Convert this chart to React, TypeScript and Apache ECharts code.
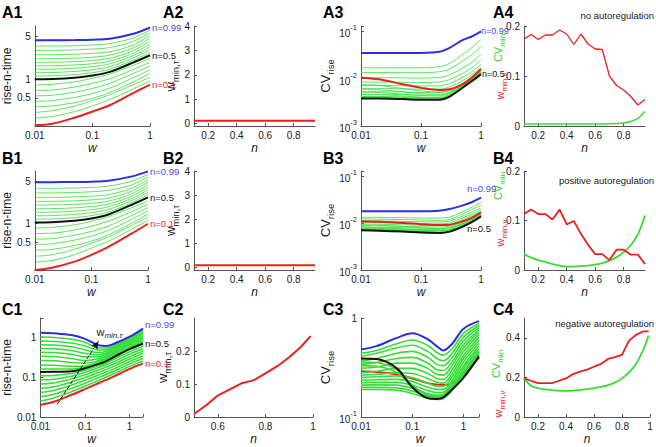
import React, { useEffect, useRef } from 'react';
import * as echarts from 'echarts';

// ---------------- data ----------------
const N_LEVELS = [0.1, 0.15, 0.2, 0.25, 0.3, 0.35, 0.4, 0.45, 0.5, 0.55, 0.6, 0.65, 0.7, 0.75, 0.8, 0.85, 0.9, 0.95, 0.99];

const W_A1 = [0.01, 0.02, 0.05, 0.1, 0.2, 0.5, 1];
const A1_RISE = [
  [0.18, 0.19, 0.24, 0.30, 0.38, 0.59, 0.82],
  [0.235, 0.25, 0.30, 0.37, 0.47, 0.69, 0.94],
  [0.29, 0.31, 0.37, 0.45, 0.56, 0.81, 1.08],
  [0.36, 0.37, 0.42, 0.49, 0.61, 0.90, 1.24],
  [0.44, 0.45, 0.51, 0.59, 0.72, 1.05, 1.43],
  [0.54, 0.55, 0.62, 0.71, 0.86, 1.23, 1.64],
  [0.66, 0.67, 0.75, 0.86, 1.02, 1.43, 1.88],
  [0.81, 0.83, 0.91, 1.04, 1.22, 1.67, 2.16],
  [1.0, 1.01, 1.06, 1.15, 1.32, 1.85, 2.45],
  [1.13, 1.14, 1.19, 1.28, 1.47, 2.02, 2.72],
  [1.28, 1.29, 1.34, 1.43, 1.61, 2.20, 3.02],
  [1.45, 1.46, 1.51, 1.60, 1.78, 2.40, 3.35],
  [1.65, 1.66, 1.71, 1.79, 1.97, 2.62, 3.72],
  [1.88, 1.89, 1.93, 2.02, 2.19, 2.89, 4.13],
  [2.15, 2.16, 2.20, 2.28, 2.46, 3.19, 4.58],
  [2.5, 2.5, 2.55, 2.63, 2.80, 3.57, 5.08],
  [2.95, 2.95, 3.0, 3.09, 3.27, 4.08, 5.64],
  [3.45, 3.45, 3.50, 3.60, 3.80, 4.65, 6.26],
  [4.3, 4.3, 4.32, 4.38, 4.55, 5.4, 6.9],
];

const B1_RISE = [
  [0.175, 0.19, 0.24, 0.31, 0.42, 0.68, 1.0],
  [0.235, 0.25, 0.31, 0.40, 0.52, 0.80, 1.13],
  [0.295, 0.31, 0.38, 0.48, 0.61, 0.93, 1.28],
  [0.37, 0.38, 0.44, 0.52, 0.66, 1.01, 1.44],
  [0.46, 0.47, 0.54, 0.63, 0.78, 1.17, 1.63],
  [0.56, 0.57, 0.65, 0.75, 0.92, 1.35, 1.84],
  [0.69, 0.70, 0.79, 0.91, 1.10, 1.56, 2.08],
  [0.85, 0.87, 0.96, 1.10, 1.31, 1.81, 2.36],
  [1.05, 1.06, 1.12, 1.22, 1.42, 2.02, 2.70],
  [1.19, 1.20, 1.26, 1.36, 1.56, 2.18, 2.97],
  [1.35, 1.36, 1.42, 1.52, 1.72, 2.36, 3.27],
  [1.54, 1.55, 1.61, 1.70, 1.90, 2.56, 3.59],
  [1.76, 1.77, 1.82, 1.91, 2.10, 2.79, 3.95],
  [2.02, 2.03, 2.08, 2.16, 2.35, 3.07, 4.35],
  [2.32, 2.33, 2.37, 2.46, 2.63, 3.38, 4.78],
  [2.7, 2.7, 2.75, 2.83, 3.0, 3.77, 5.26],
  [3.2, 3.2, 3.25, 3.34, 3.52, 4.30, 5.79],
  [3.8, 3.8, 3.85, 3.94, 4.13, 4.93, 6.4],
  [4.8, 4.8, 4.82, 4.88, 5.05, 5.9, 7.2],
];

const W_C1 = [0.01, 0.02, 0.05, 0.1, 0.2, 0.3, 0.5, 1, 2];
const C1_RISE = [
  [0.02, 0.024, 0.036, 0.05, 0.07, 0.085, 0.11, 0.16, 0.22],
  [0.025, 0.03, 0.043, 0.059, 0.082, 0.10, 0.128, 0.185, 0.25],
  [0.032, 0.037, 0.052, 0.07, 0.096, 0.116, 0.148, 0.213, 0.29],
  [0.041, 0.046, 0.063, 0.083, 0.112, 0.134, 0.17, 0.245, 0.335],
  [0.052, 0.057, 0.075, 0.097, 0.13, 0.155, 0.196, 0.282, 0.39],
  [0.067, 0.071, 0.089, 0.113, 0.15, 0.178, 0.225, 0.325, 0.44],
  [0.085, 0.088, 0.105, 0.131, 0.172, 0.203, 0.258, 0.375, 0.51],
  [0.108, 0.11, 0.123, 0.148, 0.19, 0.225, 0.295, 0.43, 0.59],
  [0.134, 0.135, 0.14, 0.165, 0.21, 0.25, 0.34, 0.50, 0.68],
  [0.16, 0.16, 0.158, 0.175, 0.225, 0.275, 0.37, 0.55, 0.74],
  [0.20, 0.198, 0.185, 0.19, 0.24, 0.295, 0.40, 0.60, 0.81],
  [0.26, 0.255, 0.232, 0.22, 0.26, 0.315, 0.43, 0.65, 0.88],
  [0.33, 0.325, 0.29, 0.26, 0.285, 0.34, 0.46, 0.70, 0.96],
  [0.42, 0.41, 0.37, 0.32, 0.32, 0.37, 0.50, 0.76, 1.05],
  [0.52, 0.51, 0.46, 0.39, 0.36, 0.40, 0.54, 0.82, 1.15],
  [0.64, 0.63, 0.57, 0.48, 0.41, 0.44, 0.58, 0.88, 1.25],
  [0.80, 0.78, 0.71, 0.60, 0.47, 0.48, 0.62, 0.94, 1.36],
  [1.0, 0.98, 0.88, 0.74, 0.54, 0.53, 0.66, 0.98, 1.49],
  [1.29, 1.25, 1.12, 0.90, 0.63, 0.60, 0.72, 1.02, 1.63],
];
const C1_ARROW = [[0.024, 0.021], [0.2, 0.78]];

const W_A3 = [0.01, 0.02, 0.05, 0.1, 0.2, 0.3, 0.5, 0.7, 1];
const A3_CV = [
  [0.0105, 0.0097, 0.0076, 0.0064, 0.0058, 0.006, 0.0077, 0.0105, 0.016],
  [0.0075, 0.0072, 0.0062, 0.0055, 0.0052, 0.0056, 0.0074, 0.0102, 0.0155],
  [0.006, 0.0058, 0.0053, 0.0048, 0.0047, 0.0052, 0.0071, 0.0098, 0.015],
  [0.0052, 0.0051, 0.0047, 0.0044, 0.0043, 0.0049, 0.0069, 0.0095, 0.0145],
  [0.0046, 0.0046, 0.0043, 0.0041, 0.0040, 0.0046, 0.0067, 0.0092, 0.014],
  [0.0042, 0.0042, 0.0040, 0.0039, 0.0038, 0.0044, 0.0066, 0.009, 0.0135],
  [0.0040, 0.0040, 0.0039, 0.0038, 0.0037, 0.0043, 0.0065, 0.0089, 0.013],
  [0.0039, 0.0039, 0.0038, 0.0037, 0.0036, 0.0042, 0.0065, 0.0088, 0.0128],
  [0.0038, 0.0038, 0.0037, 0.0036, 0.0036, 0.0042, 0.0065, 0.0088, 0.0125],
  [0.0042, 0.0042, 0.0041, 0.004, 0.004, 0.0046, 0.0069, 0.0092, 0.013],
  [0.0047, 0.0047, 0.0046, 0.0045, 0.0045, 0.0051, 0.0074, 0.0098, 0.0138],
  [0.0053, 0.0053, 0.0052, 0.0051, 0.0051, 0.0057, 0.0081, 0.0107, 0.015],
  [0.0062, 0.0062, 0.0061, 0.006, 0.006, 0.0067, 0.0092, 0.012, 0.017],
  [0.0072, 0.0072, 0.0071, 0.007, 0.0071, 0.0079, 0.0108, 0.014, 0.02],
  [0.0085, 0.0085, 0.0084, 0.0083, 0.0085, 0.0096, 0.013, 0.017, 0.025],
  [0.0105, 0.0105, 0.0104, 0.0103, 0.0106, 0.012, 0.017, 0.022, 0.033],
  [0.0135, 0.0135, 0.0134, 0.0134, 0.014, 0.016, 0.024, 0.032, 0.048],
  [0.017, 0.017, 0.017, 0.017, 0.018, 0.021, 0.033, 0.045, 0.067],
  [0.035, 0.035, 0.035, 0.035, 0.037, 0.045, 0.066, 0.078, 0.10],
];

const B3_CV = [
  [0.011, 0.0107, 0.0101, 0.0095, 0.0091, 0.0093, 0.011, 0.013, 0.017],
  [0.0092, 0.009, 0.0085, 0.008, 0.0077, 0.008, 0.0097, 0.0118, 0.0158],
  [0.0082, 0.008, 0.0076, 0.0072, 0.0069, 0.0072, 0.009, 0.0112, 0.0152],
  [0.0077, 0.0075, 0.0071, 0.0067, 0.0065, 0.0069, 0.0087, 0.0108, 0.0147],
  [0.0074, 0.0072, 0.0068, 0.0065, 0.0063, 0.0067, 0.0086, 0.0106, 0.0143],
  [0.0073, 0.0071, 0.0067, 0.0064, 0.0062, 0.0066, 0.0085, 0.0105, 0.0141],
  [0.0072, 0.007, 0.0067, 0.0064, 0.0062, 0.0066, 0.0085, 0.0105, 0.014],
  [0.0071, 0.0069, 0.0066, 0.0063, 0.0061, 0.0066, 0.0085, 0.0105, 0.014],
  [0.0071, 0.0069, 0.0066, 0.0063, 0.0062, 0.0066, 0.0085, 0.0105, 0.014],
  [0.0074, 0.0073, 0.0071, 0.0070, 0.0069, 0.0072, 0.0095, 0.0116, 0.0143],
  [0.0078, 0.0077, 0.0075, 0.0073, 0.0073, 0.0076, 0.0099, 0.0121, 0.0148],
  [0.0083, 0.0082, 0.008, 0.0078, 0.0077, 0.0081, 0.0105, 0.0127, 0.0155],
  [0.0089, 0.0088, 0.0085, 0.0084, 0.0083, 0.0086, 0.0111, 0.0135, 0.0163],
  [0.0096, 0.0095, 0.0092, 0.009, 0.0089, 0.0093, 0.012, 0.0145, 0.0175],
  [0.0104, 0.0102, 0.01, 0.0098, 0.0097, 0.0101, 0.013, 0.0157, 0.019],
  [0.0114, 0.0112, 0.0109, 0.0107, 0.0106, 0.0111, 0.0143, 0.0173, 0.021],
  [0.0124, 0.0122, 0.0119, 0.0117, 0.0115, 0.012, 0.0159, 0.0195, 0.024],
  [0.0134, 0.0133, 0.0131, 0.0129, 0.0129, 0.0135, 0.0178, 0.022, 0.028],
  [0.018, 0.018, 0.018, 0.018, 0.0185, 0.020, 0.024, 0.028, 0.035],
];

const W_C3 = [0.01, 0.02, 0.05, 0.1, 0.2, 0.3, 0.4, 0.6, 1, 2];
const C3_RED = [0.29, 0.285, 0.27, 0.245, 0.22, 0.213, 0.21, 0.22, 0.27, 0.40];
const C3_BLACK = [0.39, 0.385, 0.31, 0.20, 0.155, 0.152, 0.158, 0.19, 0.25, 0.41];
const C3_BLUE = [0.48, 0.52, 0.63, 0.70, 0.61, 0.52, 0.47, 0.55, 0.78, 0.93];
const C3_GREENS = [
  [0.44, 0.47, 0.55, 0.60, 0.53, 0.45, 0.42, 0.49, 0.70, 0.88],
  [0.41, 0.44, 0.50, 0.53, 0.46, 0.39, 0.37, 0.44, 0.64, 0.84],
  [0.37, 0.39, 0.44, 0.46, 0.40, 0.34, 0.33, 0.40, 0.59, 0.80],
  [0.34, 0.355, 0.39, 0.40, 0.35, 0.30, 0.295, 0.36, 0.54, 0.76],
  [0.31, 0.32, 0.35, 0.35, 0.31, 0.27, 0.265, 0.33, 0.50, 0.72],
  [0.28, 0.29, 0.31, 0.31, 0.275, 0.245, 0.24, 0.30, 0.46, 0.68],
  [0.265, 0.27, 0.28, 0.275, 0.245, 0.225, 0.22, 0.275, 0.42, 0.64],
  [0.25, 0.255, 0.26, 0.25, 0.22, 0.205, 0.205, 0.255, 0.39, 0.60],
  [0.235, 0.238, 0.24, 0.228, 0.2, 0.19, 0.19, 0.235, 0.36, 0.56],
  [0.222, 0.224, 0.224, 0.21, 0.185, 0.177, 0.178, 0.22, 0.33, 0.52],
  [0.21, 0.211, 0.21, 0.195, 0.172, 0.166, 0.168, 0.205, 0.31, 0.49],
  [0.2, 0.2, 0.197, 0.183, 0.162, 0.157, 0.16, 0.195, 0.29, 0.46],
  [0.19, 0.19, 0.186, 0.173, 0.155, 0.15, 0.153, 0.185, 0.275, 0.44],
  [0.36, 0.355, 0.30, 0.21, 0.165, 0.16, 0.165, 0.2, 0.27, 0.43],
  [0.33, 0.325, 0.28, 0.205, 0.168, 0.163, 0.168, 0.205, 0.285, 0.46],
];

const N_COL2 = [0.1, 0.15, 0.2, 0.25, 0.3, 0.35, 0.4, 0.45, 0.5, 0.55, 0.6, 0.65, 0.7, 0.75, 0.8, 0.85, 0.9, 0.95];
const A2_WMIN_TAU = [0.12, 0.12, 0.12, 0.12, 0.12, 0.12, 0.12, 0.12, 0.12, 0.12, 0.12, 0.12, 0.12, 0.12, 0.12, 0.12, 0.12, 0.12];
const B2_WMIN_TAU = [0.1, 0.1, 0.1, 0.1, 0.1, 0.1, 0.1, 0.1, 0.1, 0.1, 0.1, 0.1, 0.1, 0.1, 0.1, 0.1, 0.1, 0.1];
const N_C2 = [0.5, 0.55, 0.6, 0.65, 0.7, 0.75, 0.8, 0.85, 0.9, 0.95, 0.99];
const C2_WMIN_TAU = [0.009, 0.035, 0.065, 0.084, 0.102, 0.111, 0.132, 0.154, 0.181, 0.213, 0.245];

const N_COL4 = [0.1, 0.15, 0.2, 0.25, 0.3, 0.35, 0.4, 0.45, 0.5, 0.55, 0.6, 0.65, 0.7, 0.75, 0.8, 0.85, 0.9, 0.95];
const A4_WMIN_NU = [0.174, 0.183, 0.173, 0.182, 0.182, 0.192, 0.184, 0.163, 0.184, 0.164, 0.154, 0.153, 0.10, 0.081, 0.072, 0.059, 0.042, 0.053];
const A4_CV_MIN = [0.004, 0.004, 0.004, 0.004, 0.004, 0.004, 0.004, 0.004, 0.004, 0.004, 0.004, 0.004, 0.0045, 0.005, 0.006, 0.009, 0.015, 0.029];
const B4_WMIN_NU = [0.113, 0.122, 0.113, 0.113, 0.102, 0.122, 0.092, 0.099, 0.073, 0.051, 0.032, 0.032, 0.020, 0.041, 0.041, 0.031, 0.031, 0.012];
const B4_CV_MIN = [0.032, 0.025, 0.02, 0.016, 0.012, 0.009, 0.007, 0.007, 0.008, 0.009, 0.011, 0.014, 0.019, 0.026, 0.036, 0.05, 0.072, 0.11];
const N_C4 = [0.1, 0.15, 0.2, 0.25, 0.3, 0.35, 0.4, 0.45, 0.5, 0.55, 0.6, 0.65, 0.7, 0.75, 0.8, 0.85, 0.9, 0.95, 0.99];
const C4_WMIN_NU = [0.195, 0.183, 0.171, 0.171, 0.171, 0.183, 0.195, 0.217, 0.229, 0.239, 0.254, 0.268, 0.293, 0.302, 0.314, 0.386, 0.415, 0.432, 0.432];
const C4_CV_MIN = [0.195, 0.158, 0.146, 0.14, 0.136, 0.133, 0.132, 0.133, 0.137, 0.141, 0.146, 0.152, 0.161, 0.175, 0.195, 0.225, 0.268, 0.336, 0.412];

const RISE_TICKS = [0.5, 1, 5];
const COL2_Y_TICKS = [0, 1, 2, 3, 4];
const N_TICKS = [0.2, 0.4, 0.6, 0.8];
const C2_X_TICKS = [0.6, 0.8, 1];
const C2_Y_TICKS = [0, 0.1, 0.2];
const COL4_Y_TICKS = [0, 0.1, 0.2];
const C4_X_TICKS = [0.2, 0.4, 0.6, 0.8, 1];
const C4_Y_TICKS = [0, 0.2, 0.4];

// ---------------- style ----------------
const FONT = '"Liberation Sans", Arial, Helvetica, sans-serif';
const GREEN = '#36dd36';
const RED = '#ea1f1f';
const BLUE = '#2d2de6';
const BLACK = '#111111';
const AXIS_C = '#555555';
const TXT = '#1a1a1a';

const GRIDS = [
  { left: 30, top: 26, width: 120, height: 100 },
  { left: 194, top: 26, width: 121, height: 100 },
  { left: 361, top: 26, width: 120, height: 100 },
  { left: 524, top: 26, width: 121, height: 100 },
  { left: 30, top: 171, width: 118, height: 99 },
  { left: 194, top: 171, width: 121, height: 99 },
  { left: 361, top: 171, width: 120, height: 99 },
  { left: 524, top: 171, width: 121, height: 99 },
  { left: 30, top: 318, width: 113, height: 99 },
  { left: 194, top: 318, width: 119, height: 99 },
  { left: 361, top: 318, width: 118, height: 99 },
  { left: 524, top: 318, width: 126, height: 99 },
];

const axisLine = { show: true, onZero: false, lineStyle: { color: AXIS_C, width: 1 } };
const axisTick = { show: true, inside: true, length: 3, lineStyle: { color: AXIS_C, width: 1 } };
const labelBase = { color: TXT, fontSize: 10, fontFamily: FONT, margin: 4 };
const supRich = {
  b: { fontSize: 10, fontFamily: FONT, color: TXT, lineHeight: 15, verticalAlign: 'bottom' },
  s: { fontSize: 7.5, fontFamily: FONT, color: TXT, lineHeight: 15, verticalAlign: 'top' },
};
const nameRich = {
  m: { fontSize: 13, fontFamily: FONT, color: TXT, lineHeight: 20, verticalAlign: 'middle' },
  s: { fontSize: 9.5, fontFamily: FONT, color: TXT, lineHeight: 20, verticalAlign: 'bottom' },
};

function decLabel(v: number) {
  const l = Math.log10(v);
  const e = Math.round(l);
  if (Math.abs(l - e) > 1e-6) return '';
  return e >= 0 ? String(Math.pow(10, e)) : Math.pow(10, e).toFixed(-e);
}
function powLabel(v: number) {
  const l = Math.log10(v);
  const e = Math.round(l);
  if (Math.abs(l - e) > 1e-6) return '';
  if (e === 0) return '1';
  return '{b|10}{s|' + e + '}';
}

function xName(t: string) {
  return { name: t, nameLocation: 'middle', nameGap: 16, nameTextStyle: { fontSize: 12, fontStyle: 'italic', fontFamily: FONT, color: TXT } };
}

function logX(i: number, min: number, max: number) {
  return {
    type: 'log', logBase: 10, gridIndex: i, min, max, position: 'bottom',
    axisLine, axisTick, splitLine: { show: false },
    axisLabel: { ...labelBase, formatter: (v: number) => decLabel(v) },
    ...xName('w'),
  };
}
function valX(i: number, min: number, max: number, ticks: number[]) {
  return {
    type: 'value', gridIndex: i, min, max, position: 'bottom',
    axisLine, axisTick: { ...axisTick, customValues: ticks }, splitLine: { show: false },
    axisLabel: { ...labelBase, customValues: ticks, formatter: (v: number) => String(v) },
    ...xName('n'),
  };
}
function logY(i: number, min: number, max: number, fmt: (v: number) => string, name: string, gap: number, hideLabels = false) {
  return {
    type: 'log', logBase: 10, gridIndex: i, min, max, position: 'left',
    axisLine, axisTick: hideLabels ? { show: false } : axisTick, splitLine: { show: false },
    axisLabel: hideLabels ? { show: false } : { ...labelBase, formatter: fmt, rich: supRich },
    name, nameLocation: 'middle', nameGap: gap, nameRotate: 90,
    nameTextStyle: { fontSize: 12, fontFamily: FONT, color: TXT, rich: nameRich },
  };
}
function riseCompanion(i: number, min: number, max: number) {
  const t = RISE_TICKS.map((v) => Math.log10(v));
  return {
    type: 'value', gridIndex: i, min: Math.log10(min), max: Math.log10(max), position: 'left',
    axisLine: { show: false }, axisTick: { ...axisTick, customValues: t }, splitLine: { show: false },
    axisLabel: { ...labelBase, customValues: t, formatter: (v: number) => String(+Math.pow(10, v).toPrecision(2)) },
    name: 'rise-n-time', nameLocation: 'middle', nameGap: 16, nameRotate: 90,
    nameTextStyle: { fontSize: 12, fontFamily: FONT, color: TXT },
  };
}
function valY(i: number, min: number, max: number, ticks: number[], name = '', gap = 10) {
  return {
    type: 'value', gridIndex: i, min, max, position: 'left',
    axisLine, axisTick: { ...axisTick, customValues: ticks }, splitLine: { show: false },
    axisLabel: { ...labelBase, customValues: ticks, formatter: (v: number) => String(v) },
    name, nameLocation: 'middle', nameGap: gap, nameRotate: 90,
    nameTextStyle: { fontSize: 12, fontFamily: FONT, color: TXT, rich: nameRich },
  };
}

function line(i: number, xs: number[], ys: number[], color: string, width: number, extra: any = {}) {
  return {
    type: 'line', xAxisIndex: i, yAxisIndex: i,
    data: xs.map((x, k) => [x, ys[k]]),
    showSymbol: false, symbol: 'none', silent: true, animation: false,
    lineStyle: { color, width }, emphasis: { disabled: true },
    ...extra,
  };
}
function endLab(text: string, color: string, offset: number[] = [0, 0], size = 9.5) {
  return { show: true, formatter: text, color, fontSize: size, fontFamily: FONT, distance: 2, offset };
}

function family(i: number, ws: number[], rows: number[][], labels: any, greenWidth = 0.8, extraBlack: any = {}) {
  const out: any[] = [];
  const last = rows.length - 1;
  rows.forEach((row, k) => {
    if (k === 0 || k === 8 || k === last) return;
    out.push(line(i, ws, row, GREEN, greenWidth, { smooth: 0.35 }));
  });
  out.push(line(i, ws, rows[0], RED, 2, { smooth: 0.35, endLabel: labels.red }));
  out.push(line(i, ws, rows[8], BLACK, 2, { smooth: 0.35, endLabel: labels.black, ...extraBlack }));
  out.push(line(i, ws, rows[last], BLUE, 2, { smooth: 0.35, endLabel: labels.blue }));
  return out;
}

function buildOption() {
  const xAxis: any[] = [
    logX(0, 0.01, 1), valX(1, 0.1, 0.95, N_TICKS), logX(2, 0.01, 1), valX(3, 0.1, 0.95, N_TICKS),
    logX(4, 0.01, 1), valX(5, 0.1, 0.95, N_TICKS), logX(6, 0.01, 1), valX(7, 0.1, 0.95, N_TICKS),
    logX(8, 0.01, 2), valX(9, 0.5, 1, C2_X_TICKS), logX(10, 0.01, 2), valX(11, 0.1, 1, C4_X_TICKS),
  ];
  const wTau = '{m|w}{s|min,τ}';
  const cvRise = '{m|CV}{s|rise}';
  const yAxis: any[] = [
    logY(0, 0.175, 7.3, decLabel, '', 16, true),
    valY(1, -0.1, 4, COL2_Y_TICKS, wTau, 8),
    logY(2, 0.001, 0.13, powLabel, cvRise, 18),
    valY(3, 0, 0.2, COL4_Y_TICKS),
    logY(4, 0.175, 7.3, decLabel, '', 16, true),
    valY(5, -0.1, 4, COL2_Y_TICKS, wTau, 8),
    logY(6, 0.001, 0.13, powLabel, cvRise, 18),
    valY(7, 0, 0.2, COL4_Y_TICKS),
    logY(8, 0.01, 3, decLabel, 'rise-n-time', 19),
    valY(9, 0, 0.3, C2_Y_TICKS, wTau, 10),
    logY(10, 0.1, 1, powLabel, cvRise, 18),
    valY(11, 0, 0.5, C4_Y_TICKS),
    riseCompanion(0, 0.175, 7.3),
    riseCompanion(4, 0.175, 7.3),
  ];

  const series: any[] = [];
  series.push(...family(0, W_A1, A1_RISE, {
    red: endLab('n=0.1', RED), black: endLab('n=0.5', BLACK), blue: endLab('n=0.99', '#4a4ae6'),
  }));
  series.push(...family(4, W_A1, B1_RISE, {
    red: endLab('n=0.1', RED), black: endLab('n=0.5', BLACK), blue: endLab('n=0.99', '#4a4ae6'),
  }));
  series.push(...family(8, W_C1, C1_RISE, {
    red: endLab('n=0.1', RED), black: endLab('n=0.5', BLACK), blue: endLab('n=0.99', '#4a4ae6', [0, -4]),
  }, 1.5, {
    markLine: {
      silent: true, animation: false, symbol: ['none', 'arrow'], symbolSize: [6, 8],
      lineStyle: { type: 'dashed', color: BLACK, width: 1 },
      label: {
        show: true, position: 'end', distance: 2, offset: [10, 0], formatter: '{m|w}{s|min,τ}',
        rich: {
          m: { fontSize: 11, fontFamily: FONT, color: TXT, lineHeight: 16, verticalAlign: 'middle' },
          s: { fontSize: 8, fontFamily: FONT, color: TXT, lineHeight: 16, verticalAlign: 'bottom', fontStyle: 'italic' },
        },
      },
      data: [[{ coord: C1_ARROW[0] }, { coord: C1_ARROW[1] }]],
    },
  }));
  series.push(...family(2, W_A3, A3_CV, {
    red: undefined, black: endLab('n=0.5', BLACK, [-1, 0], 9), blue: endLab('n=0.99', '#4a4ae6', [-2, 0], 9),
  }));
  series.push(...family(6, W_A3, B3_CV, {
    red: undefined, black: endLab('n=0.5', BLACK, [-16, 12]), blue: endLab('n=0.99', '#4a4ae6', [-16, -9]),
  }));
  // C3: red drawn under the greens
  series.push(line(10, W_C3, C3_RED, RED, 2, { smooth: 0.35 }));
  C3_GREENS.forEach((row) => series.push(line(10, W_C3, row, GREEN, 1.6, { smooth: 0.35 })));
  series.push(line(10, W_C3, C3_BLACK, BLACK, 2, { smooth: 0.35 }));
  series.push(line(10, W_C3, C3_BLUE, BLUE, 2, { smooth: 0.35 }));

  series.push(line(1, N_COL2, A2_WMIN_TAU, RED, 2));
  series.push(line(5, N_COL2, B2_WMIN_TAU, RED, 2));
  series.push(line(9, N_C2, C2_WMIN_TAU, RED, 2));

  series.push(line(3, N_COL4, A4_CV_MIN, GREEN, 1.5, { smooth: 0.3 }));
  series.push(line(3, N_COL4, A4_WMIN_NU, RED, 1.3));
  series.push(line(7, N_COL4, B4_CV_MIN, GREEN, 1.8, { smooth: 0.3 }));
  series.push(line(7, N_COL4, B4_WMIN_NU, RED, 1.8));
  series.push(line(11, N_C4, C4_CV_MIN, GREEN, 1.8, { smooth: 0.3 }));
  series.push(line(11, N_C4, C4_WMIN_NU, RED, 1.8));

  const panelLabels = [
    ['A1', 2, 4], ['A2', 163, 4], ['A3', 323, 4], ['A4', 493, 4],
    ['B1', 2, 150], ['B2', 163, 150], ['B3', 323, 150], ['B4', 493, 150],
    ['C1', 2, 301], ['C2', 163, 301], ['C3', 323, 301], ['C4', 493, 301],
  ];
  const graphic: any[] = panelLabels.map(([t, x, y]) => ({
    type: 'text', x, y, silent: true,
    style: { text: t, fontSize: 16, fontWeight: 'bold', fontFamily: FONT, fill: '#000' },
  }));
  const notes = [
    ['no autoregulation', 654, 15],
    ['positive autoregulation', 654, 180],
    ['negative autoregulation', 654, 323],
  ];
  notes.forEach(([t, x, y]) => graphic.push({
    type: 'text', x, y, silent: true,
    style: { text: t, fontSize: 9.5, fontFamily: FONT, fill: TXT, align: 'right', verticalAlign: 'middle' },
  }));
  const subRich = (c: string) => ({
    m: { fontSize: 11, fontFamily: FONT, fill: c, lineHeight: 17, verticalAlign: 'middle' },
    s: { fontSize: 8, fontFamily: FONT, fill: c, lineHeight: 17, verticalAlign: 'bottom' },
  });
  const col4Names = [
    [498, 48, 500, 86],
    [498, 186, 500, 233],
    [496, 364, 498, 404],
  ];
  col4Names.forEach(([cx, cy, wx, wy]) => {
    graphic.push({
      type: 'text', x: cx, y: cy, rotation: Math.PI / 2, silent: true,
      style: { text: '{m|CV}{s|min}', rich: subRich('#2fcf2f'), align: 'center', verticalAlign: 'middle' },
    });
    graphic.push({
      type: 'text', x: wx, y: wy, rotation: Math.PI / 2, silent: true,
      style: { text: '{m|w}{s|min,ν}', rich: subRich(RED), align: 'center', verticalAlign: 'middle' },
    });
  });

  return {
    animation: false,
    backgroundColor: '#ffffff',
    grid: GRIDS.map((g) => ({ ...g, containLabel: false })),
    xAxis,
    yAxis,
    series,
    graphic,
  };
}

export default function App() {
  const ref = useRef<HTMLDivElement>(null);
  useEffect(() => {
    document.body.style.margin = '0';
    const chart = echarts.init(ref.current as HTMLDivElement, null, { renderer: 'svg' });
    chart.setOption(buildOption() as any);
    return () => chart.dispose();
  }, []);
  return <div ref={ref} style={{ width: 656, height: 447, background: '#fff' }} />;
}
